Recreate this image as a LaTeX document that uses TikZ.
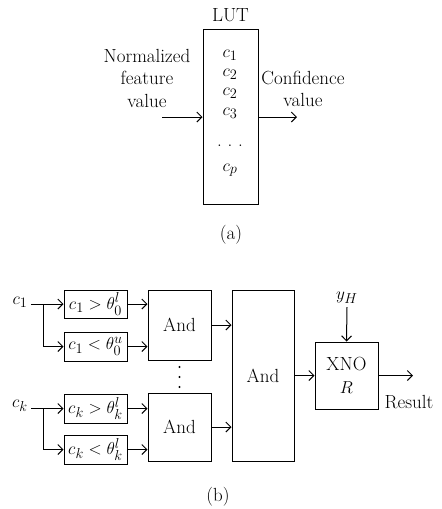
\documentclass[tikz,border=0pt]{standalone}
\usepackage{amsmath}
\usetikzlibrary{arrows.meta,positioning,calc}

\tikzset{
  blockbox/.style={draw, line width=1pt, inner sep=0pt, align=center},
  flow/.style={->, line width=1pt},
  >={Straight Barb[length=5pt,width=10pt,line width=1pt]}
}

\begin{document}
\begin{tikzpicture}[x=1pt,y=-1pt,font=\fontsize{19}{22.5}\selectfont]
    \useasboundingbox (0,0) rectangle (442,509);

    % (a): the lookup table
    \node[blockbox, minimum width=55, minimum height=175] (lut) at (230.5,116.5) {};
    \node (lutname) at (230.5,15) {LUT};
    \node (e1) at (230,55) {$c_1$};
    \node (e2) at (230,74) {$c_2$};
    \node (e3) at (230,93) {$c_2$};
    \node (e4) at (230,113) {$c_3$};
    \node (edots) at (230,146) {.\ .\ .};
    \node (ep) at (230,170) {$c_p$};

    \node[align=center] (norm) at (147,78) {Normalized\\feature\\value};
    \coordinate (inA) at (162,117);
    \draw[flow] (inA) -- (inA -| lut.west);

    \node[align=center] (conf) at (303,89) {Confidence\\value};
    \coordinate (outA) at (297,117);
    \draw[flow] (lut.east |- outA) -- (outA);

    \node (capa) at (231,235) {(a)};

    % (b): threshold tests
    \node (c1in) at (20,302) {$c_1$};
    \node[blockbox, minimum width=63, minimum height=28] (gt1) at (95.5,304) {$c_1>\theta_0^l$};
    \node[blockbox, minimum width=63, minimum height=29] (lt1) at (95.5,346.5) {$c_1<\theta_0^u$};
    \coordinate (br1) at (43,304);
    \draw[flow] (c1in.east |- gt1.west) -- (gt1.west);
    \draw[flow] (br1) |- (lt1.west);

    \node (ckin) at (20,406) {$c_k$};
    \node[blockbox, minimum width=63, minimum height=29] (gt2) at (95.5,408.5) {$c_k>\theta_k^l$};
    \node[blockbox, minimum width=63, minimum height=29] (lt2) at (95.5,449.5) {$c_k<\theta_k^l$};
    \coordinate (br2) at (43,408.5);
    \draw[flow] (ckin.east |- gt2.west) -- (gt2.west);
    \draw[flow] (br2) |- (lt2.west);

    % first And stage
    \node[blockbox, minimum width=63, minimum height=70] (and1) at (179.5,325) {And};
    \node[blockbox, minimum width=63, minimum height=68] (and2) at (179.5,427) {And};
    \draw[flow] (gt1.east) -- (gt1.east -| and1.west);
    \draw[flow] (lt1.east) -- (lt1.east -| and1.west);
    \draw[flow] (gt2.east) -- (gt2.east -| and2.west);
    \draw[flow] (lt2.east) -- (lt2.east -| and2.west);
    \foreach \yy in {367,377,387}
        \fill (179.5,\yy) circle (1.1);

    % second And stage and XNOR
    \node[blockbox, minimum width=62, minimum height=171] (andall) at (263,375.5) {And};
    \draw[flow] (and1.east) -- (and1.east -| andall.west);
    \draw[flow] (and2.east) -- (and2.east -| andall.west);

    \node[blockbox, minimum width=63, minimum height=67] (xnor) at (346.5,375.5) {XNO\\$R$};
    \draw[flow] (andall.east) -- (xnor.west);

    \node (yh) at (347,298) {$y_H$};
    \draw[flow] (yh.south) -- (xnor.north);

    \coordinate (res) at (413,375.5);
    \draw[flow] (xnor.east) -- (res);
    \node (result) at (409,402) {Result};

    \node (capb) at (218,497) {(b)};
\end{tikzpicture}
\end{document}
